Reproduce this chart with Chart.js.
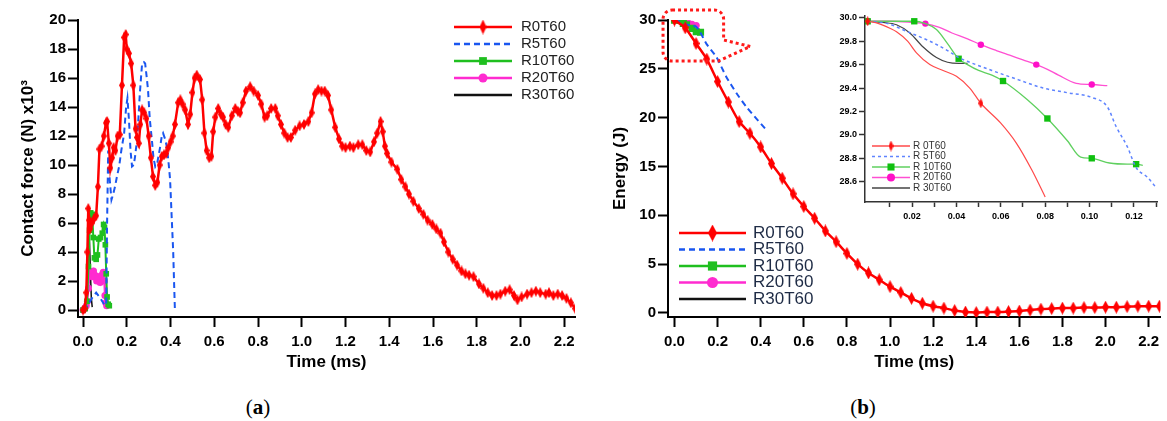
<!DOCTYPE html>
<html>
<head>
<meta charset="utf-8">
<script src="https://cdn.jsdelivr.net/npm/chart.js@4/dist/chart.umd.min.js"></script>
<style>
  body { margin: 0; background: #fff; width: 1167px; height: 421px; position: relative; overflow: hidden; }
  canvas { position: absolute; top: 0; }
  #chartA { left: 0; }
  #chartB { left: 590px; }
  #inset { left: 820px; }
  .cap { position: absolute; top: 407px; transform: translate(-50%, -50%); font-family: "Liberation Serif", serif; font-size: 21px; color: #000; }
</style>
</head>
<body>
<canvas id="chartA" width="590" height="380"></canvas>
<canvas id="chartB" width="577" height="380"></canvas>
<canvas id="inset" width="347" height="230"></canvas>
<div class="cap" style="left:258px">(<b>a</b>)</div>
<div class="cap" style="left:863px">(<b>b</b>)</div>
<script>
const seriesNames = ["R0T60", "R5T60", "R10T60", "R20T60", "R30T60"];
const insetNames = ["R 0T60", "R 5T60", "R 10T60", "R 20T60", "R 30T60"];

const timeTicks = [0, 0.2, 0.4, 0.6, 0.8, 1.0, 1.2, 1.4, 1.6, 1.8, 2.0, 2.2];
const forceTicks = [0, 2, 4, 6, 8, 10, 12, 14, 16, 18, 20];
const energyTicks = [0, 5, 10, 15, 20, 25, 30];
const insetTimeTicks = [0.01, 0.02, 0.03, 0.04, 0.05, 0.06, 0.07, 0.08, 0.09, 0.10, 0.11, 0.12, 0.13];
const insetEnergyTicks = [28.6, 28.8, 29.0, 29.2, 29.4, 29.6, 29.8, 30.0];

// (a) contact force (x10^3 N) against time (ms)
const forceR0 = [[0,0],[0.008,0.1],[0.015,1.2],[0.02,4.0],[0.024,7.0],[0.028,6.2],[0.032,5.6],[0.04,6.0],[0.05,6.3],[0.06,6.5],
  [0.068,8.5],[0.075,11.1],[0.085,11.3],[0.095,12.0],[0.105,12.9],[0.11,13.0],[0.118,11.5],[0.125,9.8],[0.133,10.5],[0.14,11.2],
  [0.148,11.0],[0.158,12.0],[0.168,12.1],[0.178,15.5],[0.188,18.8],[0.195,19.0],[0.2,18.0],[0.21,17.7],[0.22,17.0],[0.23,15.5],
  [0.24,12.5],[0.247,11.9],[0.255,11.5],[0.262,12.8],[0.27,13.8],[0.28,13.6],[0.29,13.2],[0.3,12.0],[0.31,10.5],[0.32,9.2],
  [0.33,8.6],[0.34,8.8],[0.35,10.0],[0.36,10.6],[0.37,10.7],[0.38,10.8],[0.39,11.2],[0.4,11.6],[0.41,12.0],[0.42,12.8],
  [0.435,14.3],[0.445,14.5],[0.455,14.2],[0.467,13.8],[0.48,12.8],[0.49,13.5],[0.5,15.0],[0.51,16.0],[0.52,16.2],[0.535,15.9],
  [0.545,14.5],[0.555,12.2],[0.565,11.0],[0.577,10.5],[0.587,10.6],[0.595,12.3],[0.605,13.3],[0.618,13.9],[0.63,13.5],[0.64,13.3],
  [0.652,12.8],[0.664,12.6],[0.68,13.4],[0.696,13.9],[0.708,13.7],[0.718,13.6],[0.73,14.3],[0.745,15.1],[0.764,15.4],[0.78,15.1],
  [0.8,14.8],[0.815,14.2],[0.83,13.3],[0.842,13.4],[0.86,13.9],[0.879,13.9],[0.89,13.4],[0.905,12.8],[0.92,12.2],[0.935,11.9],
  [0.95,11.9],[0.97,12.4],[0.99,12.7],[1.01,12.8],[1.03,13.0],[1.045,13.6],[1.06,14.9],[1.075,15.2],[1.09,15.1],[1.105,15.1],
  [1.12,14.8],[1.135,13.8],[1.153,12.6],[1.17,11.8],[1.185,11.3],[1.2,11.2],[1.22,11.3],[1.236,11.2],[1.258,11.4],[1.277,11.4],
  [1.295,11.0],[1.313,10.9],[1.33,11.6],[1.345,12.2],[1.36,13.0],[1.37,12.3],[1.38,11.3],[1.39,10.8],[1.41,10.2],[1.437,9.7],
  [1.455,9.0],[1.474,8.5],[1.49,8.0],[1.51,7.5],[1.535,7.0],[1.556,6.6],[1.575,6.2],[1.597,5.9],[1.615,5.6],[1.634,5.3],
  [1.65,4.7],[1.67,4.0],[1.69,3.5],[1.71,3.1],[1.73,2.7],[1.748,2.5],[1.765,2.4],[1.785,2.3],[1.81,1.8],[1.83,1.5],
  [1.85,1.2],[1.87,1.0],[1.89,1.0],[1.908,1.1],[1.93,1.3],[1.95,1.4],[1.97,1.0],[1.986,0.7],[2.005,0.9],[2.03,1.1],
  [2.05,1.2],[2.07,1.3],[2.09,1.2],[2.115,1.1],[2.13,1.2],[2.15,1.0],[2.17,1.1],[2.19,1.0],[2.21,0.8],[2.23,0.5],[2.25,0.1]];
const forceR5 = [[0,0],[0.02,0.3],[0.04,0.8],[0.06,1.2],[0.08,0.8],[0.1,0.3],[0.106,0.5],[0.11,6.0],[0.115,11.0],[0.122,9.0],
  [0.13,7.6],[0.138,8.0],[0.146,8.5],[0.155,9.2],[0.165,9.9],[0.175,11.0],[0.188,12.2],[0.197,14.0],[0.203,14.6],[0.21,13.1],
  [0.217,11.0],[0.224,9.9],[0.232,10.0],[0.238,10.6],[0.245,11.5],[0.25,12.4],[0.26,15.0],[0.27,17.0],[0.278,17.1],[0.284,17.0],
  [0.29,16.2],[0.297,15.2],[0.305,13.2],[0.315,11.7],[0.322,10.5],[0.33,9.9],[0.34,10.2],[0.352,11.2],[0.36,12.0],[0.366,12.2],
  [0.375,11.8],[0.384,11.2],[0.392,10.0],[0.398,9.0],[0.405,6.5],[0.412,4.1],[0.416,2.0],[0.42,0]];
const forceR10 = [[0,0],[0.01,0.1],[0.018,0.6],[0.025,3.0],[0.03,5.5],[0.035,6.7],[0.042,6.6],[0.047,5.0],[0.052,3.6],[0.06,3.5],
  [0.066,3.8],[0.072,4.9],[0.08,5.0],[0.088,5.3],[0.094,5.9],[0.098,5.7],[0.102,4.5],[0.106,2.5],[0.11,0.9],[0.115,0.4],[0.12,0.3]];
const forceR20 = [[0,0],[0.008,0.1],[0.015,0.3],[0.02,0.6],[0.025,1.5],[0.03,2.4],[0.036,2.6],[0.042,2.3],[0.048,2.7],[0.055,2.4],
  [0.062,2.0],[0.07,2.3],[0.078,1.9],[0.085,2.4],[0.092,2.6],[0.097,2.0],[0.1,1.0],[0.104,0.5],[0.108,0.3]];
const forceR30 = [[0,0],[0.01,0.2],[0.018,1.5],[0.022,3.5],[0.026,5.5],[0.03,4.5],[0.034,2.5],[0.038,0.8],[0.042,0.2]];

// (b) energy (J) against time (ms)
const energyR0 = [[0,30.0],[0.05,29.2],[0.1,27.6],[0.15,26.0],[0.2,23.7],[0.25,21.6],[0.3,19.6],[0.35,18.4],[0.4,17.0],[0.45,15.3],
  [0.5,13.8],[0.55,12.2],[0.6,10.9],[0.65,9.7],[0.7,8.4],[0.75,7.3],[0.8,6.1],[0.85,5.0],[0.9,4.1],[0.95,3.4],
  [1.0,2.7],[1.05,2.1],[1.1,1.5],[1.15,1.0],[1.2,0.7],[1.25,0.5],[1.3,0.25],[1.35,0.1],[1.4,0.05],[1.45,0.1],
  [1.5,0.1],[1.55,0.15],[1.6,0.2],[1.65,0.3],[1.7,0.4],[1.75,0.45],[1.8,0.5],[1.85,0.5],[1.9,0.55],[1.95,0.55],
  [2.0,0.6],[2.05,0.6],[2.1,0.65],[2.15,0.7],[2.2,0.7],[2.25,0.7]];
const energyR5 = [[0,29.97],[0.02,29.87],[0.046,29.62],[0.08,29.4],[0.1,29.32],[0.12,28.72],[0.15,27.5],[0.195,26.2],[0.24,24.2],
  [0.288,22.5],[0.334,21.1],[0.38,19.9],[0.42,18.9]];

// zoom on the first 0.13 ms (inset); R10, R20 and R30 also drawn in (b)
const zoomR0 = [[0,29.97],[0.005,29.95],[0.01,29.91],[0.013,29.88],[0.018,29.8],[0.022,29.7],[0.028,29.6],[0.034,29.55],[0.04,29.5],
  [0.046,29.4],[0.051,29.27],[0.06,29.1],[0.067,28.93],[0.074,28.7],[0.08,28.47]];
const zoomR5 = [[0,29.97],[0.009,29.95],[0.018,29.88],[0.028,29.8],[0.036,29.72],[0.041,29.66],[0.046,29.62],[0.056,29.55],[0.068,29.47],
  [0.079,29.4],[0.09,29.36],[0.101,29.32],[0.108,29.24],[0.112,29.07],[0.117,28.9],[0.121,28.72],[0.126,28.64],[0.13,28.55]];
const zoomR10 = [[0,29.97],[0.01,29.97],[0.021,29.97],[0.026,29.95],[0.031,29.9],[0.036,29.78],[0.041,29.65],[0.045,29.6],[0.05,29.55],
  [0.056,29.51],[0.061,29.46],[0.072,29.3],[0.081,29.14],[0.09,28.95],[0.096,28.81],[0.101,28.8],[0.109,28.76],[0.117,28.75],
  [0.121,28.75],[0.124,28.74]];
const zoomR20 = [[0,29.97],[0.01,29.97],[0.02,29.96],[0.026,29.95],[0.032,29.92],[0.038,29.87],[0.045,29.82],[0.051,29.77],[0.058,29.72],
  [0.064,29.68],[0.07,29.64],[0.076,29.6],[0.081,29.56],[0.086,29.51],[0.094,29.44],[0.101,29.43],[0.108,29.42]];
const zoomR30 = [[0,29.97],[0.007,29.96],[0.013,29.94],[0.019,29.87],[0.025,29.75],[0.031,29.66],[0.036,29.62],[0.041,29.61],[0.045,29.61]];

// which inset points carry a marker
const zoomMarksR0 = [0, 10];
const zoomMarksR10 = [0, 2, 6, 10, 12, 15, 18];
const zoomMarksR20 = [0, 3, 7, 11, 15];

Chart.defaults.font.family = "Liberation Sans";
Chart.defaults.color = "#000";

const pts = arr => arr.map(p => ({ x: p[0], y: p[1] }));

// tall thin diamond used as marker for R0T60
function diamond(w, h, color) {
  const c = document.createElement("canvas");
  c.width = w; c.height = h;
  const g = c.getContext("2d");
  g.fillStyle = color;
  g.beginPath();
  g.moveTo(w / 2, 0); g.lineTo(w, h / 2); g.lineTo(w / 2, h); g.lineTo(0, h / 2);
  g.closePath(); g.fill();
  return c;
}

function axis(o) {
  return {
    type: "linear", min: o.min, max: o.max,
    afterBuildTicks: s => { s.ticks = o.ticks.map(v => ({ value: v })); },
    afterFit: s => { if (o.width) s.width = o.width; if (o.height) s.height = o.height; },
    ticks: { autoSkip: false, maxRotation: 0, color: "#000", padding: o.pad, font: o.font, callback: o.fmt },
    grid: { drawOnChartArea: false, tickLength: o.tick, tickWidth: o.lw, tickColor: o.color },
    border: { color: o.color, width: o.lw },
    title: o.title ? { display: true, text: o.title, color: "#000", font: { size: 17, weight: "bold" }, padding: o.titlePad } : { display: false }
  };
}

// legend: a short line with the marker in its middle, then the name
const lineLegend = {
  id: "lineLegend",
  afterDraw(chart, args, o) {
    const ctx = chart.ctx;
    ctx.save();
    ctx.font = o.font;
    ctx.textBaseline = "middle";
    chart.data.datasets.forEach((ds, i) => {
      const y = o.y + i * o.dy;
      ctx.strokeStyle = ds.borderColor;
      ctx.lineWidth = o.lineWidth;
      ctx.setLineDash(ds.borderDash || []);
      ctx.beginPath(); ctx.moveTo(o.x, y); ctx.lineTo(o.x + o.len, y); ctx.stroke();
      ctx.setLineDash([]);
      const m = o.markers[i];
      if (m) {
        ctx.fillStyle = ds.pointBackgroundColor;
        ctx.strokeStyle = ds.pointBackgroundColor;
        Chart.helpers.drawPoint(ctx, { pointStyle: m.style, radius: m.r, borderWidth: 0 }, o.x + o.len / 2, y);
      }
      ctx.fillStyle = o.color;
      ctx.fillText(o.labels[i], o.x + o.len + o.gap, y);
    });
    ctx.restore();
  }
};

// dotted red call-out round the start of (b)
const callout = {
  id: "callout",
  afterDraw(chart, args, o) {
    if (!o.on) return;
    const { x, y } = chart.scales;
    const ctx = chart.ctx;
    const L = x.getPixelForValue(o.xMin), R = x.getPixelForValue(o.xMax);
    const T = y.getPixelForValue(o.yMax), B = y.getPixelForValue(o.yMin);
    const r = 9;
    ctx.save();
    ctx.strokeStyle = "#ff1a1a"; ctx.lineWidth = 3; ctx.setLineDash([3, 3]);
    ctx.beginPath();
    ctx.moveTo(L + r, T);
    ctx.arcTo(R, T, R, T + r, r);
    ctx.lineTo(R, y.getPixelForValue(o.notchY));
    ctx.lineTo(x.getPixelForValue(o.tipX), y.getPixelForValue(o.tipY));
    ctx.lineTo(x.getPixelForValue(o.backX), B);
    ctx.arcTo(L, B, L, B - r, r);
    ctx.arcTo(L, T, L + r, T, r);
    ctx.closePath();
    ctx.stroke();
    ctx.restore();
  }
};

const RED = "#ff0000", BLUE = "#1a56f0", GREEN = "#1fbf1f", PINK = "#ff2bd0", BLACK = "#111";
const tickFont = { size: 15, weight: "bold" };

// ---------- (a) ----------
new Chart(document.getElementById("chartA"), {
  type: "scatter",
  data: {
    datasets: [
      { label: seriesNames[0], data: pts(forceR0), showLine: true, borderColor: RED, borderWidth: 2.5,
        pointStyle: diamond(6, 11, RED), pointBackgroundColor: RED, pointRadius: 3 },
      { label: seriesNames[1], data: pts(forceR5), showLine: true, borderColor: BLUE, borderWidth: 2, borderDash: [6, 4], pointRadius: 0, pointBackgroundColor: BLUE },
      { label: seriesNames[2], data: pts(forceR10), showLine: true, borderColor: GREEN, borderWidth: 2,
        pointStyle: "rect", pointRadius: 4, pointBackgroundColor: GREEN, pointBorderWidth: 0 },
      { label: seriesNames[3], data: pts(forceR20), showLine: true, borderColor: PINK, borderWidth: 2,
        pointStyle: "circle", pointRadius: 3.5, pointBackgroundColor: PINK, pointBorderWidth: 0 },
      { label: seriesNames[4], data: pts(forceR30), showLine: true, borderColor: BLACK, borderWidth: 1.5, pointRadius: 0, pointBackgroundColor: BLACK }
    ]
  },
  options: {
    responsive: false, animation: false, events: [], devicePixelRatio: 1,
    layout: { padding: { left: 0, top: 20, right: 15, bottom: 0 } },
    plugins: {
      legend: { display: false }, tooltip: { enabled: false },
      lineLegend: { x: 454, y: 27, dy: 17, len: 58, gap: 9, lineWidth: 2.5, font: "15px 'Liberation Sans'", color: "#222", labels: seriesNames,
        markers: [{ style: diamond(7, 15, RED), r: 5 }, null, { style: "rect", r: 5.5 }, { style: "circle", r: 4.5 }, null] },
      callout: { on: false }
    },
    scales: {
      x: axis({ min: -0.023, max: 2.249, ticks: timeTicks, fmt: v => v.toFixed(1), font: tickFont, pad: 6, tick: 10, lw: 2, color: "#000",
        height: 63, title: "Time (ms)", titlePad: { top: 0, bottom: 7 } }),
      y: axis({ min: -0.48, max: 20, ticks: forceTicks, fmt: v => String(v), font: tickFont, pad: 2, tick: 10, lw: 2, color: "#000",
        width: 78, title: "Contact force (N) x10³", titlePad: { top: 18, bottom: 0 } })
    }
  },
  plugins: [lineLegend, callout]
});

// ---------- (b) ----------
new Chart(document.getElementById("chartB"), {
  type: "scatter",
  data: {
    datasets: [
      { label: seriesNames[0], data: pts(energyR0), showLine: true, borderColor: RED, borderWidth: 2.5, tension: 0.2,
        pointStyle: diamond(7, 13, RED), pointBackgroundColor: RED, pointRadius: 3 },
      { label: seriesNames[1], data: pts(energyR5), showLine: true, borderColor: BLUE, borderWidth: 2, borderDash: [6, 4], tension: 0.2, pointRadius: 0, pointBackgroundColor: BLUE },
      { label: seriesNames[2], data: pts(zoomR10), showLine: true, borderColor: GREEN, borderWidth: 2,
        pointStyle: "rect", pointRadius: c => c.dataIndex % 3 ? 0 : 5, pointBackgroundColor: GREEN, pointBorderWidth: 0 },
      { label: seriesNames[3], data: pts(zoomR20), showLine: true, borderColor: PINK, borderWidth: 2,
        pointStyle: "circle", pointRadius: c => c.dataIndex % 3 ? 0 : 3.5, pointBackgroundColor: PINK, pointBorderWidth: 0 },
      { label: seriesNames[4], data: pts(zoomR30), showLine: true, borderColor: BLACK, borderWidth: 1.5, pointRadius: 0, pointBackgroundColor: BLACK }
    ]
  },
  options: {
    responsive: false, animation: false, events: [], devicePixelRatio: 1,
    layout: { padding: { left: 0, top: 20, right: 2, bottom: 0 } },
    plugins: {
      legend: { display: false }, tooltip: { enabled: false },
      lineLegend: { x: 89, y: 233, dy: 16.5, len: 67, gap: 7, lineWidth: 2.5, font: "17px 'Liberation Sans'", color: "#1e2b45", labels: seriesNames,
        markers: [{ style: diamond(9, 17, RED), r: 6 }, null, { style: "rect", r: 6.5 }, { style: "circle", r: 5.5 }, null] },
      callout: { on: true, xMin: -0.053, xMax: 0.228, yMin: 25.8, yMax: 31.02, notchY: 27.95, tipX: 0.352, tipY: 27.29, backX: 0.205 }
    },
    scales: {
      x: axis({ min: -0.03, max: 2.255, ticks: timeTicks, fmt: v => v.toFixed(1), font: tickFont, pad: 6, tick: 10, lw: 2, color: "#000",
        height: 63, title: "Time (ms)", titlePad: { top: 0, bottom: 7 } }),
      y: axis({ min: -0.41, max: 30, ticks: energyTicks, fmt: v => String(v), font: tickFont, pad: 2, tick: 10, lw: 2, color: "#000",
        width: 78, title: "Energy (J)", titlePad: { top: 20, bottom: 0 } })
    }
  },
  plugins: [lineLegend, callout]
});

// ---------- inset of (b) ----------
const marks = (list, r) => c => list.includes(c.dataIndex) ? r : 0;
new Chart(document.getElementById("inset"), {
  type: "scatter",
  data: {
    datasets: [
      { label: insetNames[0], data: pts(zoomR0), showLine: true, borderColor: "#ff4a4a", borderWidth: 1.2, cubicInterpolationMode: "monotone",
        pointStyle: diamond(5, 10, "#ff1010"), pointBackgroundColor: "#ff1010", pointRadius: marks(zoomMarksR0, 3) },
      { label: insetNames[1], data: pts(zoomR5), showLine: true, borderColor: "#5f84ff", borderWidth: 1.5, borderDash: [3, 3], cubicInterpolationMode: "monotone",
        pointRadius: 0, pointBackgroundColor: "#5f84ff" },
      { label: insetNames[2], data: pts(zoomR10), showLine: true, borderColor: "#5fd05f", borderWidth: 1.3, cubicInterpolationMode: "monotone",
        pointStyle: "rect", pointRadius: marks(zoomMarksR10, 4.5), pointBackgroundColor: "#10c010", pointBorderWidth: 0 },
      { label: insetNames[3], data: pts(zoomR20), showLine: true, borderColor: "#ff4fd2", borderWidth: 1.3, cubicInterpolationMode: "monotone",
        pointStyle: "circle", pointRadius: marks(zoomMarksR20, 3.2), pointBackgroundColor: "#ff10c8", pointBorderWidth: 0 },
      { label: insetNames[4], data: pts(zoomR30), showLine: true, borderColor: "#444", borderWidth: 1.2, cubicInterpolationMode: "monotone",
        pointRadius: 0, pointBackgroundColor: "#444" }
    ]
  },
  options: {
    responsive: false, animation: false, events: [], devicePixelRatio: 1,
    layout: { padding: { left: 0, top: 16, right: 10, bottom: 0 } },
    plugins: {
      legend: { display: false }, tooltip: { enabled: false },
      lineLegend: { x: 52, y: 146, dy: 10.5, len: 38, gap: 3, lineWidth: 1.3, font: "10px 'Liberation Sans'", color: "#333", labels: insetNames,
        markers: [{ style: diamond(5, 11, "#ff1010"), r: 4 }, null, { style: "rect", r: 5 }, { style: "circle", r: 4 }, null] },
      callout: { on: false }
    },
    scales: {
      x: axis({ min: -0.0012, max: 0.1304, ticks: insetTimeTicks, fmt: v => Math.round(v * 100) % 2 ? "" : v.toFixed(2),
        font: { size: 9, weight: "bold" }, pad: 4, tick: 5, lw: 1.5, color: "#333", height: 28 }),
      y: axis({ min: 28.427, max: 30.015, ticks: insetEnergyTicks, fmt: v => v.toFixed(1),
        font: { size: 9, weight: "bold" }, pad: 2, tick: 6, lw: 1.5, color: "#333", width: 45 })
    }
  },
  plugins: [lineLegend, callout]
});
</script>
</body>
</html>
